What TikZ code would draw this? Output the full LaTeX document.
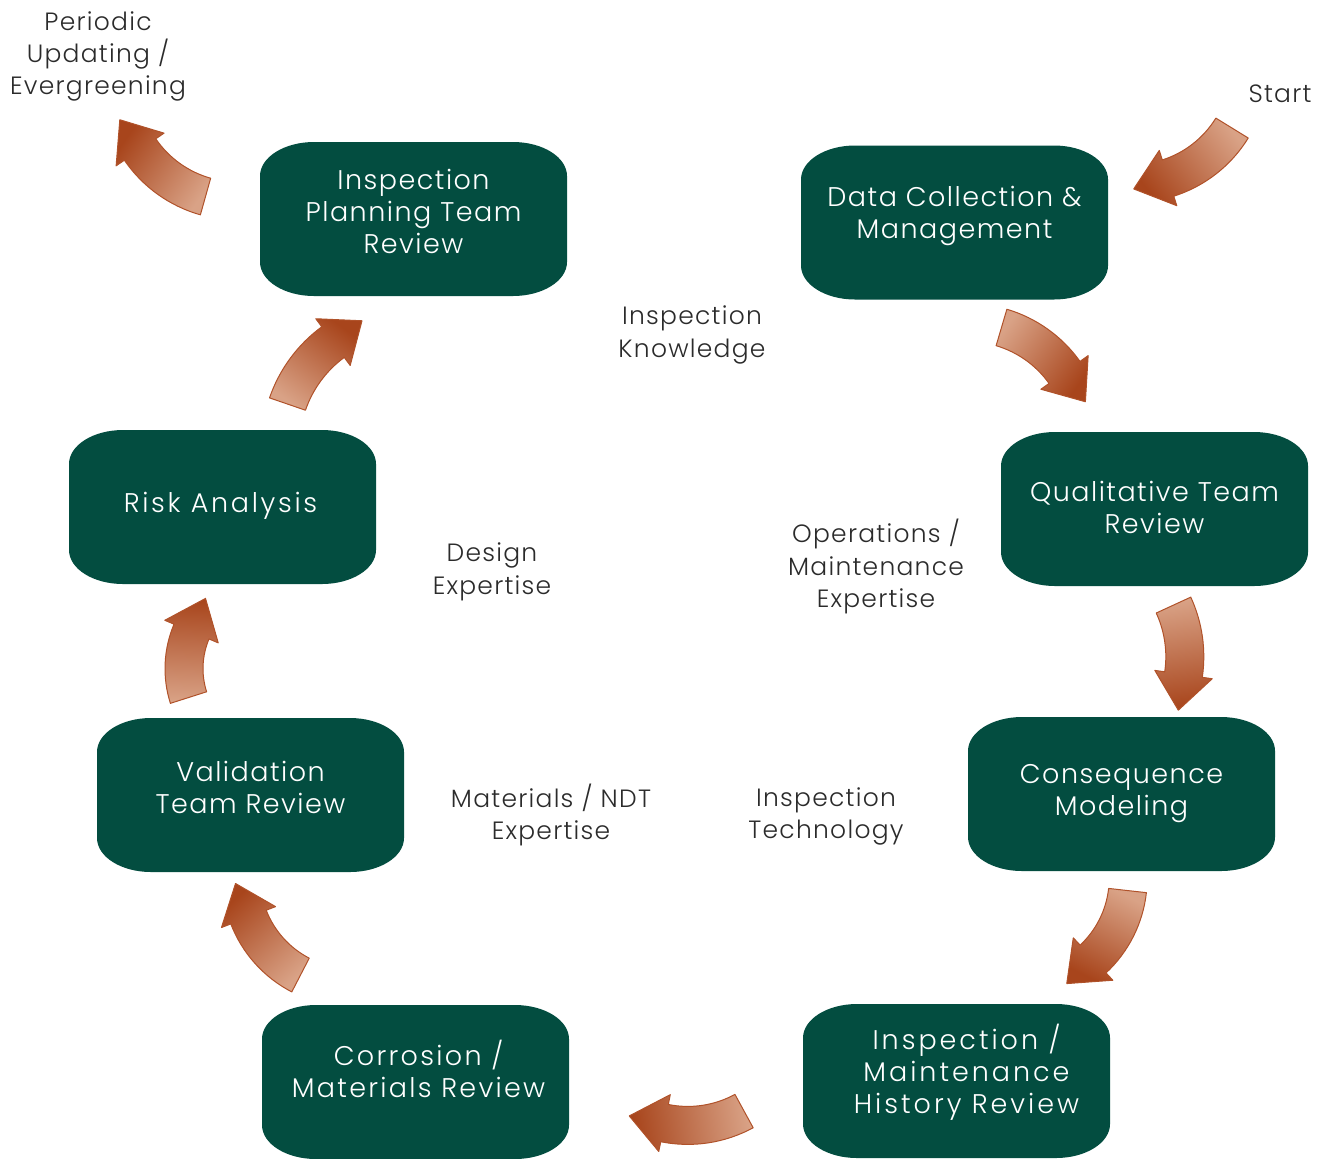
\documentclass[tikz,border=0pt]{standalone}
\usepackage{fontspec}
\setmainfont{Poppins Light}
\newfontfamily\stagefont{Poppins Light}[LetterSpace=5.5]
\newfontfamily\notefont{Poppins Light}[LetterSpace=5]
\usetikzlibrary{calc}

\definecolor{stagegreen}{HTML}{034D40}
\definecolor{rustdark}{HTML}{A8451C}
\definecolor{rustlight}{HTML}{D9A286}
\definecolor{rustline}{HTML}{B0522A}
\definecolor{labelgray}{HTML}{2B2B2B}

%% sizes of the bent block arrows (picture units)
\newcommand{\aw}{19}   % half shaft width
\newcommand{\ah}{29}   % half head width
\newcommand{\al}{36}   % head length

%% bent block arrow: centre, radius, start angle, end angle (head at end)
\newcommand{\bentarrow}[4]{%
  \pgfmathsetmacro{\bendturn}{ifthenelse(#4>#3,90,-90)}%
  \pgfmathsetmacro{\tipangle}{#4+\bendturn}%
  \pgfmathsetmacro{\shadeangle}{(#3+#4)/2+90+\bendturn}%
  \path[bent, shading angle=\shadeangle]
    ($(#1)+(#3:#2-\aw)$) arc[start angle=#3, end angle=#4, radius=#2-\aw]
    -- ($(#1)+(#4:#2-\ah)$) -- ($(#1)+(#4:#2)+(\tipangle:\al)$)
    -- ($(#1)+(#4:#2+\ah)$) -- ($(#1)+(#4:#2+\aw)$)
    arc[start angle=#4, end angle=#3, radius=#2+\aw] -- cycle;
}

\begin{document}
\begin{tikzpicture}[
  x=0.5pt, y=0.5pt,
  %% green process boxes with wide elliptic corners
  stage/.style={minimum width=153.5pt, minimum height=77pt,
    path picture={\fill[stagegreen]
      let \p1=(path picture bounding box.south west),
          \p2=(path picture bounding box.north east) in
      (\x1+27pt,\y1) -- (\x2-27pt,\y1)
      arc[start angle=-90, end angle=0, x radius=27pt, y radius=17pt]
      -- (\x2,\y2-17pt)
      arc[start angle=0, end angle=90, x radius=27pt, y radius=17pt]
      -- (\x1+27pt,\y2)
      arc[start angle=90, end angle=180, x radius=27pt, y radius=17pt]
      -- (\x1,\y1+17pt)
      arc[start angle=180, end angle=270, x radius=27pt, y radius=17pt]
      -- cycle;}},
  stagetext/.style={align=center, text=white,
    font=\stagefont\fontsize{13.5}{16}\selectfont},
  widetext/.style={font=\stagefont\addfontfeatures{LetterSpace=#1}%
    \fontsize{13.5}{16}\selectfont},
  note/.style={align=center, text=labelgray,
    font=\notefont\fontsize{12.5}{16.2}\selectfont},
  bent/.style={draw=rustline, line width=0.5pt, line join=round,
    top color=rustlight, bottom color=rustdark},
]
\useasboundingbox (0,0) rectangle (1325,-1158);

%% =========================================================
%% process boxes, clockwise from the top
%% =========================================================
\node[stage] (plan)  at (413.5,-219)   {};
\node[stage] (data)  at (954.5,-222.5) {};
\node[stage] (qual)  at (1154.5,-509)  {};
\node[stage] (cons)  at (1121.5,-794)  {};
\node[stage] (hist)  at (956.5,-1081)  {};
\node[stage] (corr)  at (415.5,-1082)  {};
\node[stage] (valid) at (250.5,-795)   {};
\node[stage] (risk)  at (222.5,-507)   {};

%% box texts sit a little above the middle
\node[stagetext] (plan_txt)  at ([yshift=4pt]plan.center)    {Inspection\\Planning Team\\Review};
\node[stagetext] (data_txt)  at ([yshift=3.5pt]data.center)  {Data Collection \&\\Management};
\node[stagetext] (qual_txt)  at ([yshift=1pt]qual.center)    {Qualitative Team\\Review};
\node[stagetext] (cons_txt)  at (cons.center)                {Consequence\\Modeling};
\node[stagetext, widetext=11]
  (hist_txt)  at ([xshift=5pt, yshift=4.5pt]hist.center)  {Inspection /\\Maintenance\\History Review};
\node[stagetext, widetext=8.5]
  (corr_txt)  at ([xshift=1.5pt, yshift=6.5pt]corr.center) {Corrosion /\\Materials Review};
\node[stagetext] (valid_txt) at ([yshift=4pt]valid.center)   {Validation\\Team Review};
\node[stagetext, widetext=10]
  (risk_txt)  at ([xshift=-1pt, yshift=0.5pt]risk.center)  {Risk Analysis};

%% =========================================================
%% free labels
%% =========================================================
\node[note] (periodic)   at (98,-56.5)   {Periodic\\Updating /\\Evergreening};
\node[note] (start)      at (1280,-94)   {Start};
\node[note] (knowledge)  at (692,-335)   {Inspection\\Knowledge};
\node[note] (design)     at (492,-572)   {Design\\Expertise};
\node[note] (operations) at (876,-566.5) {Operations /\\Maintenance\\Expertise};
\node[note] (materials)  at (551,-815)   {Materials / NDT\\Expertise};
\node[note] (technology) at (826,-816.5) {Inspection\\Technology};

%% =========================================================
%% bent arrows round the cycle
%% =========================================================
\bentarrow{1132.8,-67}{116.5}{-31.6}{-72.4}     % start -> data
\bentarrow{967.9,-441.2}{118.6}{73.55}{35.45}   % data -> qual
\bentarrow{1061.2,-656.7}{123.6}{24.7}{-8.3}    % qual -> cons
\bentarrow{1017.7,-878.2}{110.5}{-6.4}{-47}     % cons -> hist
\bentarrow{687.8,-1008.1}{117.3}{-61.35}{-101.45} % hist -> corr
\bentarrow{351,-877.4}{109.9}{242.65}{201.15}   % corr -> valid
\bentarrow{279.2,-668.6}{95.2}{197.7}{157.1}    % valid -> risk
\bentarrow{409.4,-445.9}{128.9}{161.05}{126.35} % risk -> plan
\bentarrow{237.4,-83.1}{117.8}{254.3}{214.3}    % plan -> periodic

\end{tikzpicture}
\end{document}
